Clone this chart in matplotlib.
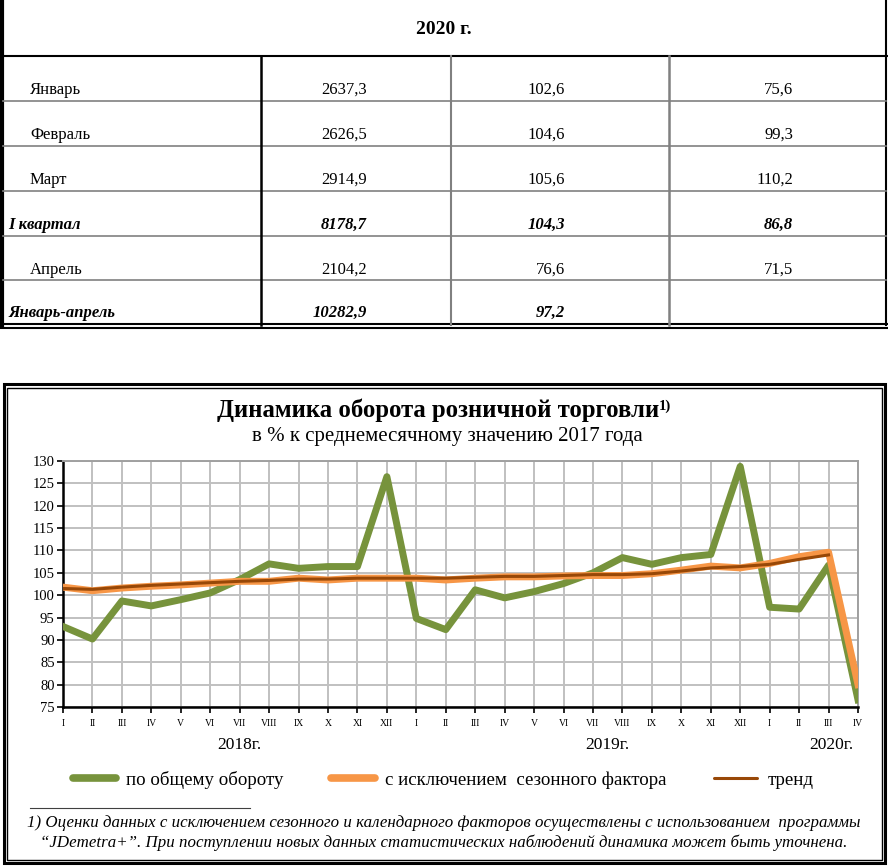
import numpy as np
import matplotlib
matplotlib.use('Agg')
import matplotlib.pyplot as plt

plt.rcParams['font.family'] = ['Liberation Serif', 'DejaVu Serif']

# table: 2020, retail turnover
table_year = '2020 г.'
row_names = ['Январь', 'Февраль', 'Март', 'I квартал', 'Апрель', 'Январь-апрель']
row_bold = [False, False, False, True, False, True]
col_turnover = ['2637,3', '2626,5', '2914,9', '8178,7', '2104,2', '10282,9']
col_prev_year = ['102,6', '104,6', '105,6', '104,3', '76,6', '97,2']
col_prev_period = ['75,6', '99,3', '110,2', '86,8', '71,5', '']

# chart: % to average month of 2017
roman = ['I', 'II', 'III', 'IV', 'V', 'VI', 'VII', 'VIII', 'IX', 'X', 'XI', 'XII']
months = roman + roman + roman[:4]
total = [93.0, 90.2, 98.7, 97.6, 99.0, 100.5, 103.5, 107.0, 106.0, 106.4, 106.4, 126.5,
         94.8, 92.3, 101.2, 99.4, 100.8, 102.6, 105.0, 108.4, 106.9, 108.4, 109.1, 128.8,
         97.3, 96.9, 106.7, 76.6]
seasonal = [101.8, 101.0, 101.6, 102.0, 102.3, 102.7, 103.1, 103.1, 103.8, 103.4, 103.8, 103.8,
            103.8, 103.4, 103.8, 104.1, 104.1, 104.3, 104.4, 104.4, 104.8, 105.6, 106.5, 106.1,
            107.1, 108.6, 109.6, 80.0]
trend = [101.5, 101.3, 101.8, 102.2, 102.5, 102.8, 103.1, 103.3, 103.6, 103.6, 103.8, 103.8,
         103.8, 103.8, 104.0, 104.2, 104.2, 104.4, 104.6, 104.6, 104.8, 105.4, 106.1, 106.4,
         106.9, 108.0, 109.0]
years = ['2018г.', '2019г.', '2020г.']
year_pos = [6.0, 18.5, 26.1]

W, H = 888, 866
fig = plt.figure(figsize=(W / 100, H / 100), dpi=100)

# background layer in pixel coords for the table and the frames
bg = fig.add_axes([0, 0, 1, 1])
bg.set_xlim(0, W)
bg.set_ylim(H, 0)
bg.axis('off')

# --- table ---
row_lines = [56, 101, 146, 191, 236, 280]
bg.plot([1.5, 1.5], [0, 325], color='black', lw=3)
bg.plot([886, 886], [0, 325], color='black', lw=1.5)
bg.plot([0, 887], [56, 56], color='black', lw=1.5)
for y in row_lines[1:]:
    bg.plot([3, 886], [y, y], color='#808080', lw=1.2)
bg.plot([0, 887], [324, 324], color='black', lw=1.5)
bg.plot([0, 887], [327.5, 327.5], color='black', lw=1.5)
bg.plot([261, 261], [56, 325], color='black', lw=1.8)
bg.plot([451, 451], [56, 325], color='#808080', lw=1.5)
bg.plot([669, 669], [56, 325], color='#808080', lw=1.8)

bg.text(444, 30, table_year, ha='center', va='center', fontsize=14, fontweight='bold')
for i, name in enumerate(row_names):
    yc = row_lines[i] + 34 if i < 5 else 313
    style = dict(fontweight='bold', fontstyle='italic') if row_bold[i] else {}
    bg.text(8 if row_bold[i] else 30, yc, name, ha='left', va='center', fontsize=12, **style)
    bg.text(367, yc, col_turnover[i], ha='right', va='center', fontsize=12, **style)
    bg.text(565, yc, col_prev_year[i], ha='right', va='center', fontsize=12, **style)
    bg.text(793, yc, col_prev_period[i], ha='right', va='center', fontsize=12, **style)

# --- chart frame ---
bg.add_patch(plt.Rectangle((3.5, 384), 881.5, 479, fill=False, ec='black', lw=2.2))
bg.add_patch(plt.Rectangle((7, 387.5), 874.5, 472, fill=False, ec='black', lw=1))

title = bg.text(438, 410, 'Динамика оборота розничной торговли', ha='center', va='center',
                fontsize=17.8, fontweight='bold')
bg.annotate('1)', xy=(1, 1), xycoords=title, xytext=(0, -1), textcoords='offset points',
            ha='left', va='top', fontsize=10.5, fontweight='bold')
bg.text(447, 437, 'в % к среднемесячному значению 2017 года', ha='center', va='center', fontsize=15)

# --- chart ---
ax = fig.add_axes([63 / W, 1 - 707 / H, 795 / W, 246 / H])
x = np.arange(len(months))
ax.plot(x, total, color='#77933C', lw=5, solid_joinstyle='round', label='по общему обороту', zorder=3)
ax.plot(x, seasonal, color='#F79646', lw=5, solid_joinstyle='round',
        label='с исключением  сезонного фактора', zorder=4)
ax.plot(x[:len(trend)], trend, color='#984807', lw=2.2, solid_joinstyle='round', label='тренд', zorder=5)

ax.set_xlim(0, len(months) - 1)
ax.set_ylim(75, 130)
ax.set_yticks(np.arange(75, 131, 5))
ax.set_xticks(x)
ax.set_xticklabels(months, fontsize=7)
ax.tick_params(axis='y', labelsize=10.5, length=4, width=1.2, pad=2)
ax.tick_params(axis='x', length=4, width=1.2, pad=5)
ax.grid(True, color='#C0C0C0', lw=1.4)
ax.set_axisbelow(True)
for s in ['top', 'right']:
    ax.spines[s].set_color('#A0A0A0')
    ax.spines[s].set_linewidth(1.4)
for s in ['left', 'bottom']:
    ax.spines[s].set_color('black')
    ax.spines[s].set_linewidth(1.8)

for label, pos in zip(years, year_pos):
    ax.text(pos, -0.155, label, transform=ax.get_xaxis_transform(), ha='center', va='center', fontsize=12.5)

leg = ax.legend(loc='center', bbox_to_anchor=(443 / W, 1 - 780 / H), bbox_transform=fig.transFigure,
                ncol=3, frameon=False, fontsize=13.6, handlelength=2.3, handletextpad=0.55,
                columnspacing=2.5)
for h in leg.get_lines():
    h.set_solid_capstyle('round')
    if h.get_linewidth() > 3:
        h.set_linewidth(5.5)

# footnote
bg.plot([30, 250], [808, 808], color='#404040', lw=0.8)
bg.text(444, 823, '1) Оценки данных с исключением сезонного и календарного факторов осуществлены '
        'с использованием  программы', ha='center', va='center', fontsize=12.2, fontstyle='italic')
bg.text(444, 843, '“JDemetra+”. При поступлении новых данных статистических наблюдений динамика '
        'может быть уточнена.', ha='center', va='center', fontsize=12.2, fontstyle='italic')

fig.savefig('out.png', dpi=100)
